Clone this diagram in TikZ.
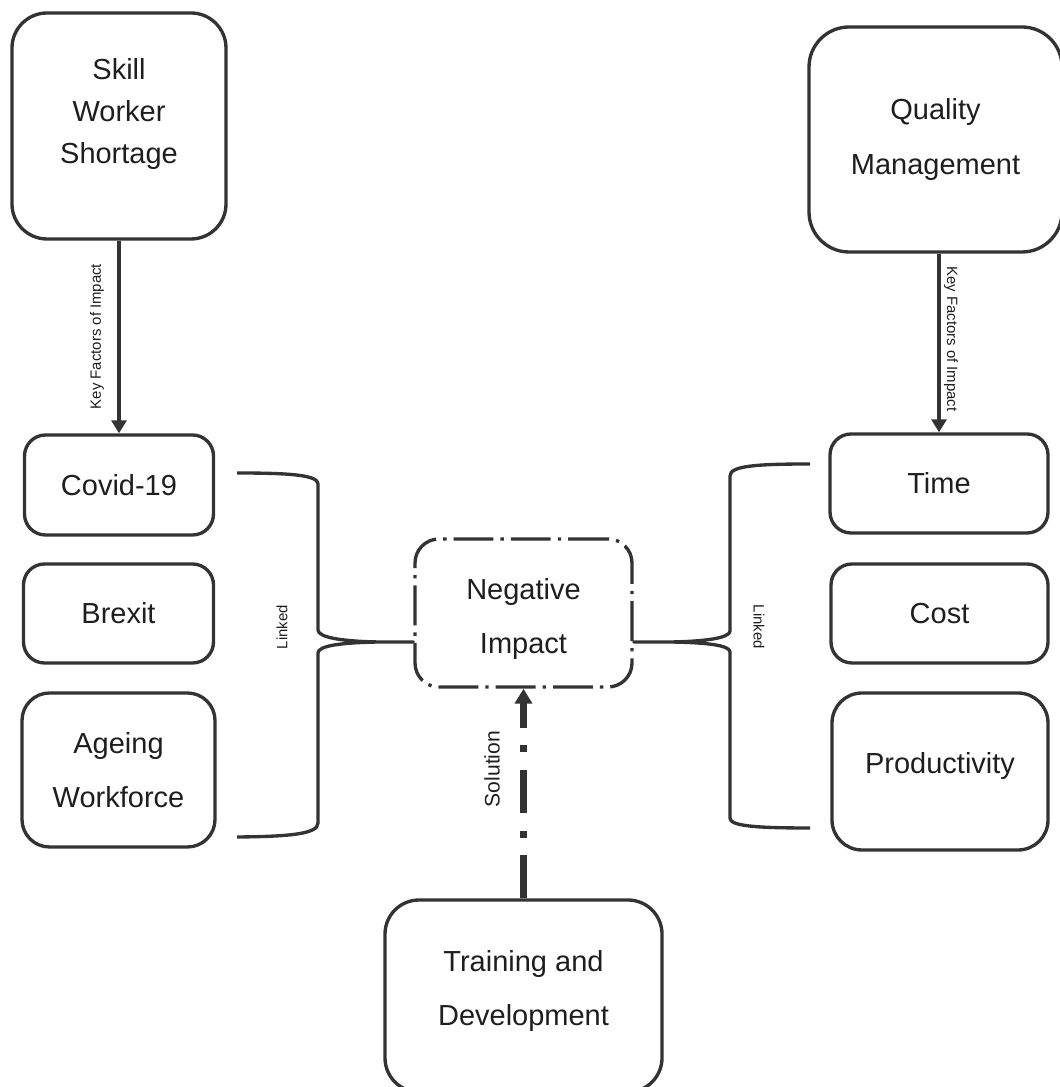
\documentclass[tikz,border=0pt]{standalone}
\usepackage{fontspec}
\setmainfont{Liberation Sans}
\usetikzlibrary{arrows.meta}
\definecolor{boxline}{RGB}{51,51,51}
\definecolor{boxtext}{RGB}{30,30,30}

\begin{document}
\begin{tikzpicture}[x=1cm,y=1cm,line join=round,>=Latex]
\tikzset{box/.style={draw=boxline,line width=1.9pt,rounded corners=0.42cm,align=center,text=boxtext,inner sep=0pt,font=\fontsize{16.5}{31}\selectfont},
  lab/.style={text=boxtext,font=\fontsize{8.5}{10}\selectfont},
  sollab/.style={text=boxtext,font=\fontsize{12}{14}\selectfont},
  keyarrow/.style={draw=boxline,line width=1.9pt,-{Triangle[length=7.4pt,width=8.5pt]}},
  solarrow/.style={draw=boxline,line width=3.8pt,dash pattern=on 24.4pt off 10.2pt on 3.8pt off 10.2pt,-{Triangle[length=8.5pt,width=9.6pt]}},
  brace/.style={draw=boxline,line width=1.9pt}}
\useasboundingbox (0,0) rectangle (21.18,21.74);

% top boxes
\node[box,minimum width=4.28cm,minimum height=4.52cm,rounded corners=0.7cm,font=\fontsize{16.5}{24}\selectfont] (Skill) at (2.38,19.22) {Skill\\Worker\\Shortage\rule[-0.6cm]{0pt}{0.6cm}};
\node[box,minimum width=5.06cm,minimum height=4.5cm,rounded corners=0.8cm] (Quality) at (18.71,18.95) {Quality\\Management};

% left column
\node[box,minimum width=3.78cm,minimum height=2.0cm] (Covid) at (2.38,12.04) {Covid-19};
\node[box,minimum width=3.8cm,minimum height=1.98cm] (Brexit) at (2.37,9.47) {Brexit};
\node[box,minimum width=3.86cm,minimum height=3.08cm,rounded corners=0.55cm] (Ageing) at (2.37,6.34) {Ageing\\Workforce};

% right column
\node[box,minimum width=4.36cm,minimum height=1.98cm] (Time) at (18.78,12.07) {Time};
\node[box,minimum width=4.34cm,minimum height=1.98cm] (Cost) at (18.79,9.47) {Cost};
\node[box,minimum width=4.32cm,minimum height=3.14cm,rounded corners=0.6cm] (Prod) at (18.80,6.31) {Productivity\rule[-0.36cm]{0pt}{0.36cm}};

% centre
\node[box,minimum width=4.34cm,minimum height=2.96cm,rounded corners=0.48cm,dash pattern=on 22.7pt off 4pt on 1.9pt off 4pt] (Neg) at (10.47,9.48) {\rule{0pt}{0.66cm}Negative\\Impact};
\node[box,minimum width=5.54cm,minimum height=3.84cm,rounded corners=0.68cm] (Train) at (10.47,1.82) {Training and\\Development\rule[-0.32cm]{0pt}{0.32cm}};

% key factor arrows
\draw[keyarrow] (Skill.south) -- (Covid.north);
\draw[keyarrow] (Quality.south -| Time.north) -- (Time.north);
\node[lab,rotate=90] (KeyL) at (1.94,15.01) {Key Factors of Impact};
\node[lab,rotate=-90] (KeyR) at (19.02,14.96) {Key Factors of Impact};

% linked braces
\coordinate (LTop) at (4.74,12.28);
\coordinate (LBot) at (4.74,5.00);
\coordinate (LTip) at ([yshift=-0.58cm]Neg.west);
\coordinate (RTop) at (16.2,12.46);
\coordinate (RBot) at (16.2,5.18);
\coordinate (RTip) at ([yshift=-0.58cm]Neg.east);
\draw[brace] (LTop) .. controls (5.8,12.28) and (6.36,12.24) .. (6.36,12.06) -- (6.36,9.14) .. controls (6.36,8.99) and (6.85,8.91) .. (7.6,8.90) -- (LTip) -- (7.6,8.90) .. controls (6.85,8.89) and (6.36,8.83) .. (6.36,8.68) -- (6.36,5.28) .. controls (6.36,5.06) and (5.8,5.01) .. (LBot);
\draw[brace] (RTop) .. controls (15.1,12.46) and (14.6,12.42) .. (14.6,12.22) -- (14.6,9.12) .. controls (14.6,8.98) and (14.1,8.91) .. (13.4,8.90) -- (RTip) -- (13.4,8.90) .. controls (14.1,8.89) and (14.6,8.84) .. (14.6,8.70) -- (14.6,5.38) .. controls (14.6,5.22) and (15.1,5.18) .. (RBot);
\node[lab,rotate=90] (LinkL) at (5.64,9.20) {Linked};
\node[lab,rotate=-90] (LinkR) at (15.18,9.20) {Linked};

% solution
\draw[solarrow] (Train.north) -- (Neg.south);
\node[sollab,rotate=90] (SolLab) at (9.84,6.36) {Solution};
\end{tikzpicture}
\end{document}
